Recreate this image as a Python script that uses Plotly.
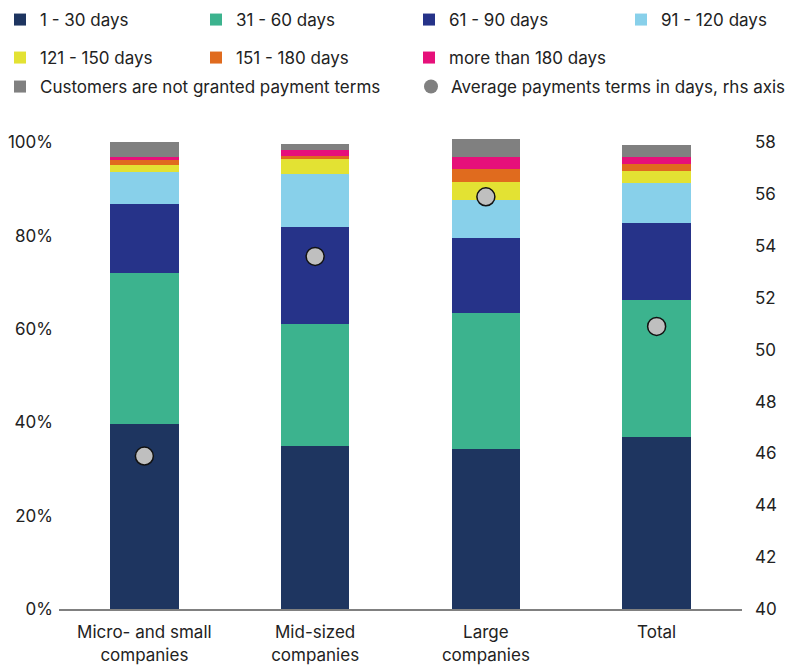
import plotly.graph_objects as go

categories = ["Micro- and small<br>companies", "Mid-sized<br>companies", "Large<br>companies", "Total"]

d1_30 = [39.7, 35.0, 34.3, 36.9]
d31_60 = [32.2, 26.1, 29.1, 29.3]
d61_90 = [14.8, 20.8, 16.0, 16.6]
d91_120 = [7.0, 11.3, 8.3, 8.5]
d121_150 = [1.4, 3.3, 3.8, 2.6]
d151_180 = [1.3, 0.6, 2.8, 1.5]
d180_plus = [0.4, 1.3, 2.6, 1.4]
no_terms = [3.2, 1.3, 3.8, 2.7]
avg_days = [45.9, 53.6, 55.9, 50.9]

pct_ticks = [0, 20, 40, 60, 80, 100]
pct_labels = ["0%", "20%", "40%", "60%", "80%", "100%"]
rhs_ticks = [40, 42, 44, 46, 48, 50, 52, 54, 56, 58]

series = [
    ("1 - 30 days", d1_30, "#1e3560"),
    ("31 - 60 days", d31_60, "#3cb38e"),
    ("61 - 90 days", d61_90, "#263389"),
    ("91 - 120 days", d91_120, "#88d0ea"),
    ("121 - 150 days", d121_150, "#e3e233"),
    ("151 - 180 days", d151_180, "#e06b1e"),
    ("more than 180 days", d180_plus, "#e6107a"),
    ("Customers are not granted payment terms", no_terms, "#808080"),
]

# legend slot (text start x px, row center y px) for each entry
legend_slots = [
    (33, 20), (242, 20), (455, 20), (667, 20),
    (33, 58), (242, 58), (455, 58),
    (33, 87), (457, 87),
]

FONT = "Inter, 'Open Sans', sans-serif"
TXT = "#222222"
W, H = 787.0, 666.0

fig = go.Figure()
for i, (name, vals, col) in enumerate(series):
    fig.add_trace(go.Bar(
        x=categories, y=vals, name=name,
        legend="legend" if i == 0 else f"legend{i+1}",
        marker=dict(color=col, line=dict(width=0)),
        width=0.4,
    ))

fig.add_trace(go.Scatter(
    x=categories, y=avg_days, yaxis="y2", mode="markers",
    name="Average payments terms in days, rhs axis", showlegend=False,
    marker=dict(color="#bfbfbf", size=18, line=dict(color="#111111", width=1.5)),
))
fig.add_trace(go.Scatter(
    x=[None], y=[None], yaxis="y2", mode="markers", legend="legend9",
    name="Average payments terms in days, rhs axis",
    marker=dict(color="#808080", size=14),
))

def leg(tx, ty):
    return dict(
        orientation="h", xref="container", yref="container",
        x=max(0.0, (tx - 46) / W), y=1 - ty / H, xanchor="left", yanchor="middle",
        font=dict(family=FONT, size=17, color=TXT),
        bgcolor="rgba(0,0,0,0)", itemwidth=30,
    )

legends = {}
for i, (tx, ty) in enumerate(legend_slots):
    key = "legend" if i == 0 else f"legend{i+1}"
    legends[key] = leg(tx, ty)

fig.update_layout(
    width=787, height=666,
    margin=dict(l=59, r=45, t=133, b=57, autoexpand=False),
    paper_bgcolor="white", plot_bgcolor="white",
    barmode="stack",
    font=dict(family=FONT, size=17, color=TXT),
    xaxis=dict(
        showline=True, linecolor="#808080", linewidth=2,
        showgrid=False, ticks="", tickfont=dict(size=17, color=TXT),
        ticklabelstandoff=7, automargin=False,
    ),
    yaxis=dict(
        range=[0, 102], tickvals=pct_ticks, ticktext=pct_labels,
        showgrid=False, zeroline=False, showline=False, ticks="",
        tickfont=dict(size=17, color=TXT), ticklabelstandoff=5,
        automargin=False,
    ),
    yaxis2=dict(
        overlaying="y", side="right", range=[40, 40 + 18 * 1.02],
        tickvals=rhs_ticks, showgrid=False, zeroline=False,
        showline=False, ticks="", tickfont=dict(size=17, color=TXT),
        ticklabelstandoff=12, automargin=False,
    ),
    showlegend=True,
    **legends,
)

fig.write_html("out.html")
